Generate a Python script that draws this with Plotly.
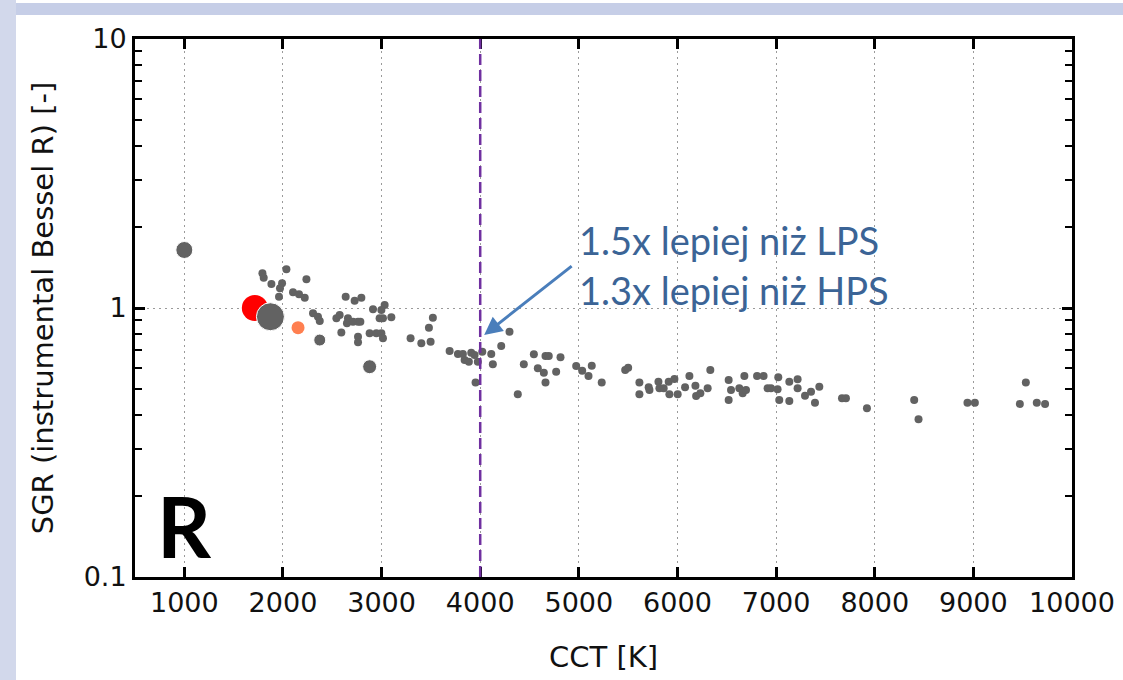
import numpy as np
import plotly.graph_objects as go

# ---------------- data ----------------
cct_small = [1792, 1805, 1883, 1991, 1970, 2035, 1960, 2102, 2163, 2221,
             2238, 2305, 2355, 2373, 2542, 2575, 2592, 2636, 2659, 2649,
             2727, 2710, 2761, 2795, 2785, 2761, 2761, 2879, 2913, 2947,
             2998, 3014, 2980, 3014, 3031, 2998, 3099, 3294, 3403, 3497,
             3480, 3520, 3690, 3774, 3824, 3842, 3885, 3909, 3943, 3976,
             4021, 4112, 4128, 4213, 4297, 3953, 4381, 4442, 4544, 4662,
             4695, 4814, 4584, 4645, 4662, 4770, 4973, 5034, 5098, 5131,
             5232, 5470, 5500, 5614, 5614, 5708, 5716, 5807, 5817, 5860,
             5911, 5918, 5969, 6002, 6077, 6121, 6182, 6189, 6232, 6306,
             6333, 6519, 6519, 6543, 6627, 6678, 6661, 6695, 6807, 6873,
             6914, 6948, 7022, 7015, 7032, 7134, 7134, 7218, 7218, 7293,
             7354, 7394, 7438, 7668, 7708, 7921, 8400, 8444, 8940, 9015,
             9471, 9532, 9643, 9727]
sgr_small = [1.346, 1.296, 1.228, 1.235, 1.184, 1.393, 1.102, 1.144, 1.124, 1.092,
             1.278, 0.956, 0.928, 0.895, 0.916, 0.942, 0.810, 1.102, 0.916, 0.877,
             1.064, 0.889, 0.889, 1.092, 0.889, 0.782, 0.746, 0.805, 0.989, 0.805,
             0.805, 0.772, 0.916, 0.916, 1.026, 0.983, 0.924, 0.772, 0.739, 0.749,
             0.845, 0.920, 0.692, 0.675, 0.675, 0.641, 0.631, 0.682, 0.669, 0.631,
             0.688, 0.675, 0.618, 0.722, 0.816, 0.529, 0.478, 0.618, 0.673, 0.663,
             0.663, 0.656, 0.597, 0.575, 0.529, 0.580, 0.609, 0.585, 0.559, 0.610,
             0.528, 0.588, 0.600, 0.528, 0.478, 0.507, 0.496, 0.532, 0.503, 0.503,
             0.532, 0.478, 0.545, 0.478, 0.507, 0.559, 0.514, 0.471, 0.482, 0.503,
             0.588, 0.540, 0.455, 0.496, 0.503, 0.559, 0.482, 0.496, 0.559, 0.559,
             0.503, 0.503, 0.553, 0.499, 0.455, 0.532, 0.451, 0.543, 0.503, 0.472,
             0.488, 0.444, 0.510, 0.462, 0.462, 0.424, 0.455, 0.386, 0.444, 0.444,
             0.440, 0.528, 0.444, 0.440]

cct_large = [1000, 1873, 2373, 2879]
sgr_large = [1.643, 0.928, 0.760, 0.605]

cct_red = [1715]
sgr_red = [1.0]

cct_orange = [2153]
sgr_orange = [0.845]

threshold_cct = 4000
arrow_target = (4040, 0.794)

x_tickvals = [1000, 2000, 3000, 4000, 5000, 6000, 7000, 8000, 9000, 10000]
x_ticktext = ["1000", "2000", "3000", "4000", "5000", "6000", "7000", "8000", "9000", "10000"]
y_tickvals = [0.1, 1, 10]
y_ticktext = ["0.1", "1", "10"]
y_minor = [0.2, 0.3, 0.4, 0.5, 0.6, 0.7, 0.8, 0.9, 2, 3, 4, 5, 6, 7, 8, 9]

note_lines = ["1.5x lepiej niż LPS", "1.3x lepiej niż HPS"]
panel_label = "R"

# ---------------- style ----------------
GRAY = "#626262"
large_sizes = [17, 28, 12, 14]
W, H = 1123, 680
L, R, T, B = 135, 51, 39, 103
PW, PH = W - L - R, H - T - B


def px_x(p):
    return (p - L) / PW


def px_y(p):
    return (H - B - p) / PH


fig = go.Figure()
fig.add_trace(go.Scatter(x=cct_small, y=sgr_small, mode="markers",
                         marker=dict(size=8, color=GRAY, opacity=1), showlegend=False))
fig.add_trace(go.Scatter(x=cct_red, y=sgr_red, mode="markers",
                         marker=dict(size=26, color="#ff0000", opacity=1), showlegend=False))
fig.add_trace(go.Scatter(x=cct_large, y=sgr_large, mode="markers",
                         marker=dict(size=large_sizes, color=GRAY, opacity=1), showlegend=False))
fig.add_trace(go.Scatter(x=cct_orange, y=sgr_orange, mode="markers",
                         marker=dict(size=13, color="#ff7f50", opacity=1), showlegend=False))

tickfont = dict(family="DejaVu Sans", size=27, color="#111111")
titlefont = dict(family="DejaVu Sans", size=29, color="#111111")

fig.update_xaxes(
    range=[500, 10000], tickmode="array", tickvals=x_tickvals, ticktext=x_ticktext,
    ticks="inside", ticklen=10, tickwidth=2.5, tickcolor="black",
    showline=True, linewidth=3, linecolor="black", mirror="ticks",
    showgrid=True, gridcolor="#9a9a9a", gridwidth=1, griddash="2px,4px",
    zeroline=False, tickfont=tickfont,
    title=dict(text="CCT [K]", font=titlefont, standoff=30),
)
fig.update_yaxes(
    type="log", range=[-1, 1], tickmode="array", tickvals=y_tickvals, ticktext=y_ticktext,
    ticks="inside", ticklen=10, tickwidth=2.5, tickcolor="black",
    minor=dict(tickmode="array", tickvals=y_minor, ticks="inside", ticklen=7,
               tickwidth=2, tickcolor="black", showgrid=False),
    showline=True, linewidth=3, linecolor="black", mirror="ticks",
    showgrid=True, gridcolor="#9a9a9a", gridwidth=1, griddash="2px,4px",
    zeroline=False, tickfont=tickfont,
    title=dict(text="SGR (instrumental Bessel R) [-]", font=titlefont, standoff=22),
)

shapes = [
    dict(type="rect", xref="paper", yref="paper", layer="below",
         x0=px_x(16), x1=px_x(W), y0=px_y(H), y1=px_y(15),
         fillcolor="white", line=dict(width=0)),
    dict(type="rect", xref="paper", yref="paper", layer="below",
         x0=px_x(16), x1=px_x(W), y0=px_y(3), y1=px_y(0),
         fillcolor="white", line=dict(width=0)),
    dict(type="rect", xref="paper", yref="paper", layer="below",
         x0=px_x(0), x1=px_x(16), y0=px_y(H), y1=px_y(0),
         fillcolor="#d2d8eb", line=dict(width=0)),
    dict(type="line", xref="x", yref="paper", x0=threshold_cct, x1=threshold_cct,
         y0=0, y1=1, line=dict(color="#7030a0", width=2.5, dash="11px,5px")),
]

annotations = [
    dict(text=f"<b>{panel_label}</b>", xref="paper", yref="paper",
         x=px_x(184.5), y=px_y(525), xanchor="center", yanchor="middle",
         showarrow=False, font=dict(family="Lato", size=84, color="black")),
    dict(text=note_lines[0], xref="paper", yref="paper", x=px_x(577), y=px_y(240),
         xanchor="left", yanchor="middle", showarrow=False,
         font=dict(family="Lato", size=38, color="#3b6496")),
    dict(text=note_lines[1], xref="paper", yref="paper", x=px_x(577), y=px_y(290),
         xanchor="left", yanchor="middle", showarrow=False,
         font=dict(family="Lato", size=38, color="#3b6496")),
    dict(text="", x=arrow_target[0], y=float(np.log10(arrow_target[1])), xref="x", yref="y",
         showarrow=True, ax=89, ay=-70, arrowhead=2, arrowsize=1.2, arrowwidth=3,
         arrowcolor="#4a7ebb", standoff=0),
]

fig.update_layout(
    width=W, height=H,
    margin=dict(l=L, r=R, t=T, b=B, autoexpand=False),
    paper_bgcolor="#c6cee7", plot_bgcolor="white",
    shapes=shapes, annotations=annotations, showlegend=False,
)

fig.write_html("out.html",
               config={"displayModeBar": False},
               post_script="document.body.style.margin='0';document.body.style.overflow='hidden';")
